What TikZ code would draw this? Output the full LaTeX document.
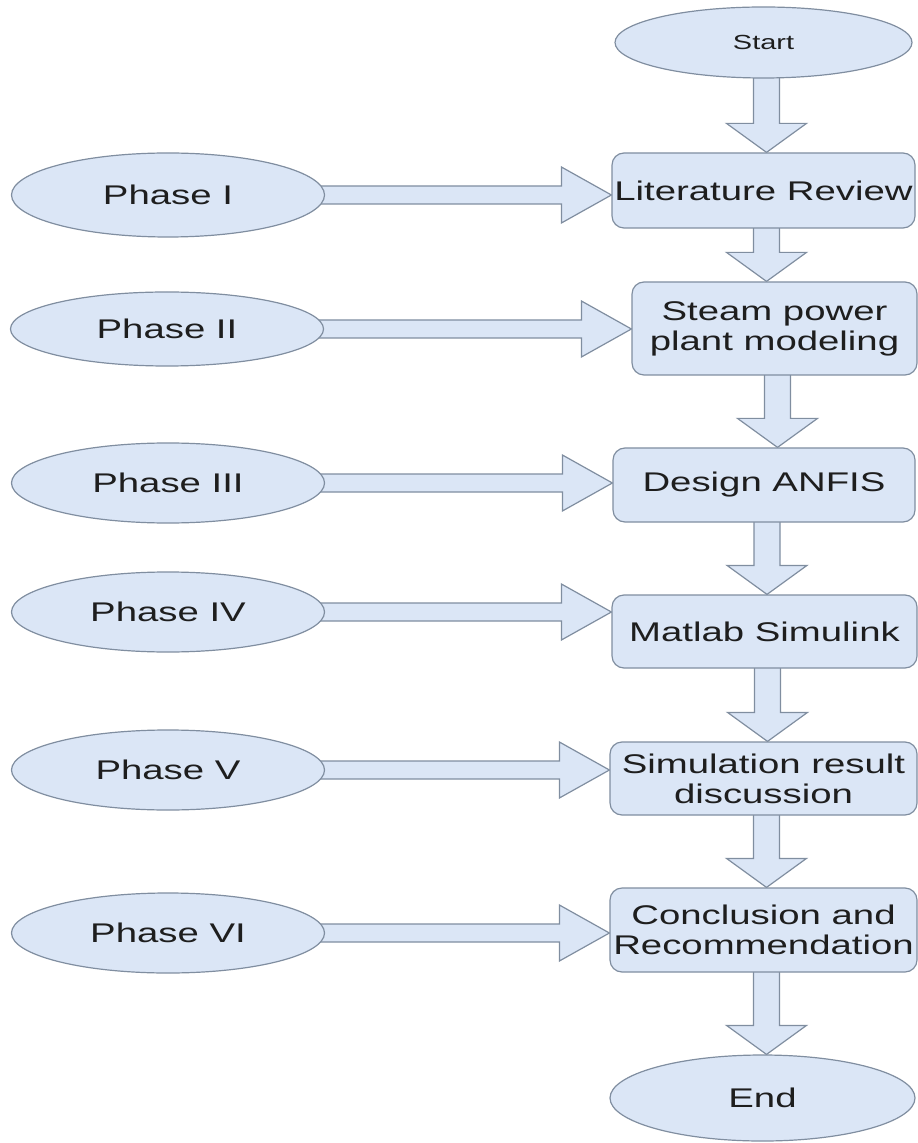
\documentclass[tikz,border=0pt]{standalone}
\usepackage{fontspec}
\setmainfont[FakeStretch=1.42]{Liberation Sans}
\usetikzlibrary{shapes.geometric,calc,backgrounds}

\definecolor{boxfill}{RGB}{219,230,246}
\definecolor{boxline}{RGB}{128,142,160}
\definecolor{ink}{RGB}{30,30,30}

% hollow block arrow pointing down, from the bottom of #1 to the top of #2
\newcommand{\downblock}[2]{%
  \draw[blockarrow] let \p1=($(#1.south)+(1.5pt,1.5pt)$), \p2=(#2.north) in
    (\x1-6.5pt,\y1) -- (\x1+6.5pt,\y1) -- (\x1+6.5pt,\y2+14.5pt)
    -- (\x1+20pt,\y2+14.5pt) -- (\x1,\y2) -- (\x1-20pt,\y2+14.5pt)
    -- (\x1-6.5pt,\y2+14.5pt) -- cycle;}

% hollow block arrow pointing right, from the side of #1 to the side of #2
\newcommand{\rightblock}[2]{%
  \draw[blockarrow] let \p1=($(#1.east)+(-3pt,0)$), \p2=(#2.west) in
    (\x1,\y1+4.5pt) -- (\x2-25pt,\y1+4.5pt) -- (\x2-25pt,\y1+14pt)
    -- (\x2,\y1) -- (\x2-25pt,\y1-14pt) -- (\x2-25pt,\y1-4.5pt)
    -- (\x1,\y1-4.5pt) -- cycle;}

\tikzset{
  base/.style={draw=boxline, fill=boxfill, line width=0.6pt, text=ink,
    inner sep=0pt, align=center, font=\fontsize{13.5pt}{15pt}\selectfont},
  phase/.style={base, ellipse, minimum width=156.5pt, minimum height=40pt},
  terminal/.style={base, ellipse},
  stepbox/.style={base, rectangle, rounded corners=6pt},
  blockarrow/.style={draw=boxline, fill=boxfill, line width=0.6pt, line join=miter},
}

\begin{document}
\begin{tikzpicture}[x=0.5pt, y=-0.5pt]
  \useasboundingbox (0,0) rectangle (917,1143);

  % main sequence
  \node[terminal, minimum width=148.5pt, minimum height=35.5pt,
        font=\fontsize{10.2pt}{12pt}\selectfont] (start) at (763.5,42.5) {Start};
  \node[stepbox, minimum width=151.5pt, minimum height=37.5pt] (lit) at (763.5,190.5) {Literature Review};
  \node[stepbox, minimum width=142.5pt, minimum height=46.5pt] (steam) at (774.5,328.5) {Steam power\\plant modeling};
  \node[stepbox, minimum width=151pt, minimum height=37pt] (anfis) at (764,485) {Design ANFIS};
  \node[stepbox, minimum width=152.5pt, minimum height=36.5pt] (matlab) at (764.5,631.5) {Matlab Simulink};
  \node[stepbox, minimum width=153.5pt, minimum height=36.5pt] (sim) at (763.5,778.5) {Simulation result\\discussion};
  \node[stepbox, minimum width=153.5pt, minimum height=42pt] (concl) at (763.5,930) {Conclusion and\\Recommendation};
  \node[terminal, minimum width=152.5pt, minimum height=43pt] (end) at (762.5,1098) {End};

  % phases
  \node[phase, minimum height=42pt] (p1) at (168,195) {Phase I};
  \node[phase, minimum height=37pt] (p2) at (167,329) {Phase II};
  \node[phase] (p3) at (168,483) {Phase III};
  \node[phase] (p4) at (168,612) {Phase IV};
  \node[phase] (p5) at (168,770) {Phase V};
  \node[phase] (p6) at (168,933) {Phase VI};

  \begin{scope}[on background layer]
    \downblock{start}{lit}
    \downblock{lit}{steam}
    \downblock{steam}{anfis}
    \downblock{anfis}{matlab}
    \downblock{matlab}{sim}
    \downblock{sim}{concl}
    \downblock{concl}{end}

    \rightblock{p1}{lit}
    \rightblock{p2}{steam}
    \rightblock{p3}{anfis}
    \rightblock{p4}{matlab}
    \rightblock{p5}{sim}
    \rightblock{p6}{concl}
  \end{scope}
\end{tikzpicture}
\end{document}
